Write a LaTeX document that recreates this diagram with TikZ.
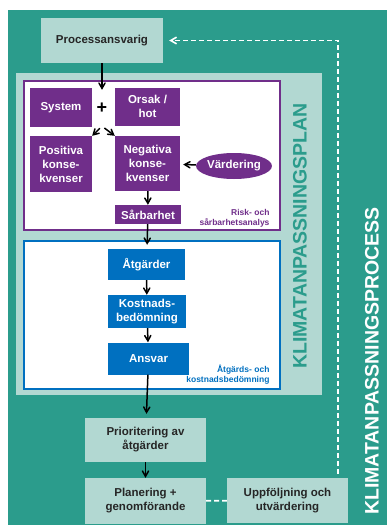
\documentclass[tikz,border=0pt]{standalone}
\usepackage{fontspec}
\setmainfont{Liberation Sans}
\usetikzlibrary{calc,arrows,shapes.geometric}
\definecolor{tealbg}{RGB}{43,156,140}
\definecolor{lightteal}{RGB}{178,216,210}
\definecolor{riskpurple}{RGB}{112,46,138}
\definecolor{actblue}{RGB}{0,112,192}

\begin{document}
\begin{tikzpicture}[x=1pt,y=-1pt,
    box/.style={inner sep=0pt, align=center, font=\fontsize{11.5}{14}\selectfont\bfseries},
    lightbox/.style={box, fill=lightteal, text=black!85},
    purplebox/.style={box, fill=riskpurple, text=white},
    bluebox/.style={box, fill=actblue, text=white},
    arr/.style={-angle 60, line width=1.5pt, black},
    dashline/.style={white, line width=1.6pt, dash pattern=on 5pt off 3pt}]
    \useasboundingbox (0,0) rectangle (387,525);
    \fill [tealbg] (8,10) rectangle (387,525);
    \fill [lightteal] (16,73) rectangle (322,395);
    \draw [riskpurple, line width=1.5pt, fill=white] (24,81) rectangle (280,230);
    \draw [actblue, line width=1.5pt, fill=white] (24,241) rectangle (280,389);

    \node [lightbox, minimum width=122pt, minimum height=45pt] (proc) at (102,40.5) {Processansvarig};

    % risk- och sarbarhetsanalys
    \node [purplebox, minimum width=62pt, minimum height=39pt] (system) at (61,107.5) {System};
    \node [font=\fontsize{18}{18}\selectfont\bfseries, minimum size=36pt, inner sep=0pt] (plus) at (102,108) {+};
    \node [purplebox, minimum width=65pt, minimum height=38pt] (orsak) at (147.5,106.5) {Orsak /\\hot};
    \node [purplebox, minimum width=62pt, minimum height=56pt] (pos) at (61,164) {Positiva\\konse-\\kvenser};
    \node [purplebox, minimum width=65pt, minimum height=55pt] (neg) at (147.5,163.5) {Negativa\\konse-\\kvenser};
    \node [purplebox, ellipse, minimum width=66pt, minimum height=26pt] (vard) at (234,166) {Värdering};
    \node [purplebox, minimum width=66pt, minimum height=19pt] (sarb) at (148,214.5) {Sårbarhet};
    \node [anchor=east, align=right, text=riskpurple, font=\fontsize{8.5}{10}\selectfont\bfseries] (risklabel) at (273,218) {Risk- och\\sårbarhetsanalys};

    % atgards- och kostnadsbedomning
    \node [bluebox, minimum width=77pt, minimum height=31pt] (atg) at (146.5,264.5) {Åtgärder};
    \node [bluebox, minimum width=78pt, minimum height=33pt] (kost) at (147,311.5) {Kostnads-\\bedömning};
    \node [bluebox, minimum width=81pt, minimum height=32pt] (ansv) at (148.5,358.5) {Ansvar};
    \node [anchor=east, align=right, text=actblue, font=\fontsize{8.5}{10}\selectfont\bfseries] (atglabel) at (273,375) {Åtgärds- och\\kostnadsbedömning};

    \node [lightbox, minimum width=121pt, minimum height=44pt] (prio) at (145.5,440) {Prioritering av\\åtgärder};
    \node [lightbox, minimum width=121pt, minimum height=46pt] (plan) at (145.5,501) {Planering +\\genomförande};
    \node [lightbox, minimum width=121pt, minimum height=45pt] (uppf) at (287.5,500.5) {Uppföljning och\\utvärdering};

    \node [rotate=90, text=tealbg, font=\fontsize{19.5}{20}\selectfont\bfseries] (plantitle) at (300,236) {KLIMATANPASSNINGSPLAN};
    \node [rotate=90, text=white, font=\fontsize{19.5}{20}\selectfont\bfseries] (proctitle) at (372,361) {KLIMATANPASSNINGSPROCESS};

    \draw [arr] (proc) -- (plus.north);
    \draw [arr, shorten <=3pt] (plus.south) -- (pos.north east);
    \draw [arr, shorten <=3pt] (plus.south) -- (neg.north west);
    \draw [arr, shorten >=3pt] (vard) -- (neg);
    \draw [arr] (neg) -- (sarb);
    \draw [arr, shorten >=4pt] (sarb) -- (atg);
    \draw [arr] (atg) -- (kost);
    \draw [arr] (kost) -- (ansv);
    \draw [arr, shorten >=4pt] (ansv) -- (prio);
    \draw [arr] (prio) -- (plan);
    \draw [dashline] (plan) -- (uppf);
    \draw [dashline, -angle 60, shorten <=4pt, shorten >=6pt] ([xshift=-10pt]uppf.north east) |- (proc.east);
\end{tikzpicture}
\end{document}
